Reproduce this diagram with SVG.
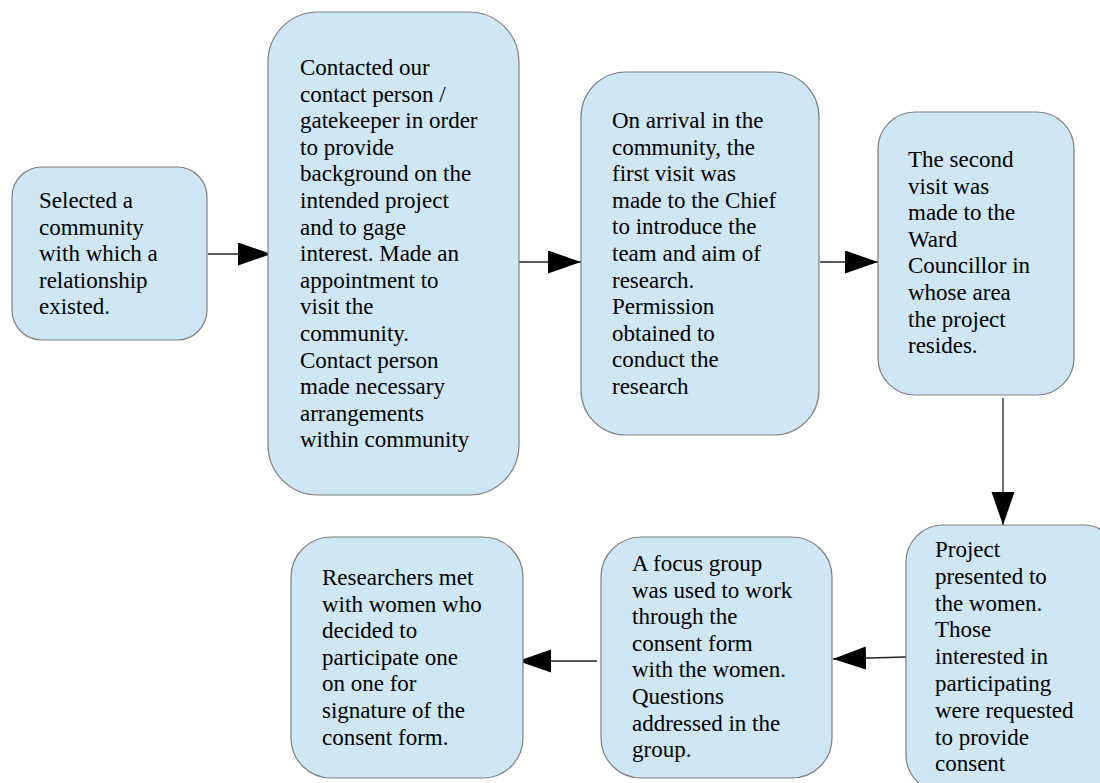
<svg xmlns="http://www.w3.org/2000/svg" width="1100" height="783" viewBox="0 0 1100 783">
<style>
.box{fill:#cfe6f4;stroke:#7f7f7f;stroke-width:1.2}
.t{font-family:"Liberation Serif","Times New Roman",serif;font-size:23px;fill:#000}
.c{stroke:#222;stroke-width:1.3;fill:none;marker-end:url(#ah)}
</style>
<defs>
<marker id="ah" markerUnits="userSpaceOnUse" markerWidth="34" markerHeight="24" refX="33" refY="11.5" orient="auto" viewBox="0 0 34 24">
<path d="M0,0 L33,11.5 L0,23 Z" fill="#000"/>
</marker>
</defs>
<rect width="1100" height="783" fill="#fff"/>
<g id="connectors">
<line class="c" x1="208" y1="254" x2="271" y2="254"/>
<line class="c" x1="515" y1="262" x2="581" y2="262"/>
<line class="c" x1="820" y1="262" x2="878" y2="262"/>
<line class="c" x1="1003" y1="398" x2="1003" y2="525"/>
<line class="c" x1="906" y1="657" x2="833" y2="659"/>
<line class="c" x1="597" y1="661" x2="518" y2="661"/>
</g>
<g id="n1">
<rect class="box" x="12" y="167" width="195" height="173" rx="30"/>
<text class="t" y="208"><tspan x="39">Selected a</tspan><tspan x="39" dy="26.6">community</tspan><tspan x="39" dy="26.6">with which a</tspan><tspan x="39" dy="26.6">relationship</tspan><tspan x="39" dy="26.6">existed.</tspan></text>
</g>
<g id="n2">
<rect class="box" x="268" y="12" width="251" height="483" rx="50"/>
<text class="t" y="75"><tspan x="300">Contacted our</tspan><tspan x="300" dy="26.6">contact person /</tspan><tspan x="300" dy="26.6">gatekeeper in order</tspan><tspan x="300" dy="26.6">to provide</tspan><tspan x="300" dy="26.6">background on the</tspan><tspan x="300" dy="26.6">intended project</tspan><tspan x="300" dy="26.6">and to gage</tspan><tspan x="300" dy="26.6">interest. Made an</tspan><tspan x="300" dy="26.6">appointment to</tspan><tspan x="300" dy="26.6">visit the</tspan><tspan x="300" dy="26.6">community.</tspan><tspan x="300" dy="26.6">Contact person</tspan><tspan x="300" dy="26.6">made necessary</tspan><tspan x="300" dy="26.6">arrangements</tspan><tspan x="300" dy="26.6">within community</tspan></text>
</g>
<g id="n3">
<rect class="box" x="581" y="72" width="238" height="363" rx="45"/>
<text class="t" y="128"><tspan x="612">On arrival in the</tspan><tspan x="612" dy="26.6">community, the</tspan><tspan x="612" dy="26.6">first visit was</tspan><tspan x="612" dy="26.6">made to the Chief</tspan><tspan x="612" dy="26.6">to introduce the</tspan><tspan x="612" dy="26.6">team and aim of</tspan><tspan x="612" dy="26.6">research.</tspan><tspan x="612" dy="26.6">Permission</tspan><tspan x="612" dy="26.6">obtained to</tspan><tspan x="612" dy="26.6">conduct the</tspan><tspan x="612" dy="26.6">research</tspan></text>
</g>
<g id="n4">
<rect class="box" x="878" y="112" width="196" height="283" rx="37"/>
<text class="t" y="167"><tspan x="908">The second</tspan><tspan x="908" dy="26.6">visit was</tspan><tspan x="908" dy="26.6">made to the</tspan><tspan x="908" dy="26.6">Ward</tspan><tspan x="908" dy="26.6">Councillor in</tspan><tspan x="908" dy="26.6">whose area</tspan><tspan x="908" dy="26.6">the project</tspan><tspan x="908" dy="26.6">resides.</tspan></text>
</g>
<g id="n5">
<rect class="box" x="906" y="525" width="214" height="267" rx="37"/>
<text class="t" y="557"><tspan x="935">Project</tspan><tspan x="935" dy="26.8">presented to</tspan><tspan x="935" dy="26.8">the women.</tspan><tspan x="935" dy="26.8">Those</tspan><tspan x="935" dy="26.8">interested in</tspan><tspan x="935" dy="26.8">participating</tspan><tspan x="935" dy="26.8">were requested</tspan><tspan x="935" dy="26.8">to provide</tspan><tspan x="935" dy="26.8">consent</tspan></text>
</g>
<g id="n6">
<rect class="box" x="601" y="537" width="231" height="241" rx="40"/>
<text class="t" y="571"><tspan x="632">A focus group</tspan><tspan x="632" dy="26.6">was used to work</tspan><tspan x="632" dy="26.6">through the</tspan><tspan x="632" dy="26.6">consent form</tspan><tspan x="632" dy="26.6">with the women.</tspan><tspan x="632" dy="26.6">Questions</tspan><tspan x="632" dy="26.6">addressed in the</tspan><tspan x="632" dy="26.6">group.</tspan></text>
</g>
<g id="n7">
<rect class="box" x="291" y="537" width="232" height="241" rx="40"/>
<text class="t" y="585"><tspan x="322">Researchers met</tspan><tspan x="322" dy="26.6">with women who</tspan><tspan x="322" dy="26.6">decided to</tspan><tspan x="322" dy="26.6">participate one</tspan><tspan x="322" dy="26.6">on one for</tspan><tspan x="322" dy="26.6">signature of the</tspan><tspan x="322" dy="26.6">consent form.</tspan></text>
</g>
</svg>
